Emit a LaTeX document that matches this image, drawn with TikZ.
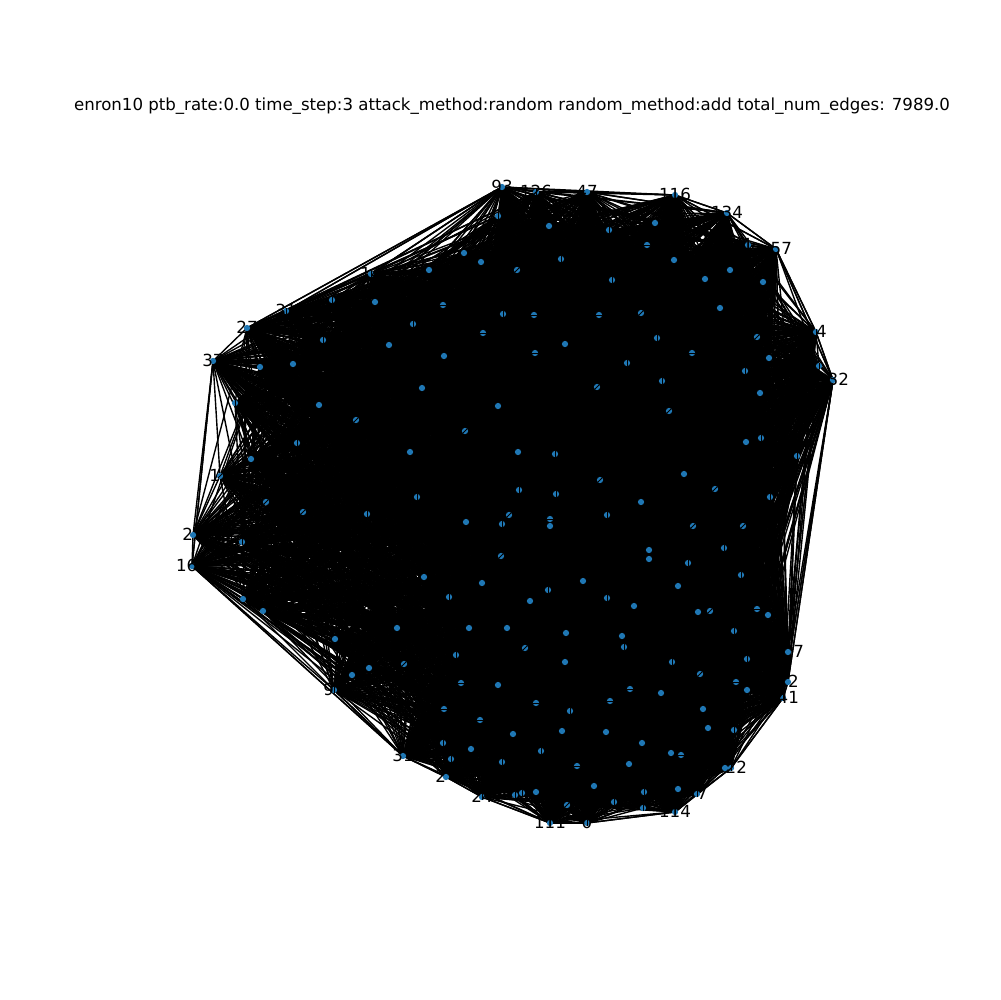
\documentclass[tikz,border=0pt]{standalone}
\usepackage{fontspec}
\setmainfont{DejaVu Sans}
\pgfdeclarelayer{edges}
\pgfsetlayers{edges,main}
\definecolor{mplblue}{HTML}{1F77B4}
\tikzset{
  dota/.style={circle,fill=mplblue,draw=none,minimum size=4.5bp,inner sep=0pt},
  dotv/.style={dota,path picture={\draw[black,line width=0.7bp] (path picture bounding box.south)--(path picture bounding box.north);}},
  dotd/.style={dota,path picture={\draw[black,line width=0.7bp] (path picture bounding box.south west)--(path picture bounding box.north east);}},
  doth/.style={dota,path picture={\draw[black,line width=0.7bp] (path picture bounding box.west)--(path picture bounding box.east);}},
  lab/.style={font=\fontsize{12bp}{14bp}\selectfont,text=black,inner sep=0pt,yshift=0.01in},
  ttl/.style={font=\fontsize{11.95bp}{14bp}\selectfont,text=black,inner sep=0pt},
  edge/.style={draw=black,line width=1bp}
}
\newcount\nodecnt
\newcommand{\gn}[4]{\global\advance\nodecnt by 1
  \node[dot#3] (n\the\nodecnt) at (#1,#2) {};
  \if\relax\detokenize{#4}\relax\else\node[lab] (l\the\nodecnt) at (n\the\nodecnt) {#4};\fi}
\begin{document}
\begin{tikzpicture}[x=0.01in,y=-0.01in]
\useasboundingbox (0,0) rectangle (1000,1000);
\node[ttl] (title) at (512,106) {enron10 ptb\_rate:0.0 time\_step:3 attack\_method:random random\_method:add total\_num\_edges: 7989.0};
% sparser nodes (lower left)
\gn{297}{443}{v}{}\gn{410}{452}{a}{}\gn{251}{459}{a}{}\gn{220}{476}{d}{1\phantom{0}}\gn{417}{497}{v}{}
\gn{266}{502}{d}{}\gn{303}{512}{d}{}\gn{367}{514}{v}{}\gn{466}{522}{a}{}\gn{242}{542}{v}{}
\gn{193}{535}{a}{2\phantom{0}}\gn{192}{566}{a}{16\phantom{0}}\gn{424}{577}{a}{}\gn{449}{597}{v}{}\gn{243}{599}{a}{}
\gn{263}{611}{a}{}\gn{397}{628}{a}{}\gn{335}{639}{a}{}\gn{404}{664}{d}{}\gn{369}{668}{a}{}
\gn{352}{675}{a}{}\gn{334}{690}{v}{9\phantom{0}}\gn{456}{655}{v}{}\gn{319}{405}{a}{}\gn{356}{420}{d}{}
\gn{465}{431}{d}{}\gn{235}{403}{v}{}\gn{213}{361}{a}{37}
\edef\NL{\the\nodecnt}
% other nodes
\gn{502}{187}{a}{93}\gn{498}{216}{v}{}\gn{464}{253}{a}{}\gn{481}{262}{a}{}\gn{429}{270}{a}{}
\gn{371}{274}{v}{14}\gn{332}{300}{v}{}\gn{375}{302}{a}{}\gn{443}{305}{h}{}\gn{503}{314}{v}{}
\gn{286}{311}{v}{31}\gn{247}{328}{a}{27}\gn{413}{324}{v}{}\gn{483}{333}{h}{}\gn{323}{340}{v}{}
\gn{389}{345}{a}{}\gn{444}{356}{a}{}\gn{293}{364}{a}{}\gn{260}{367}{a}{}\gn{422}{388}{a}{}
\gn{498}{406}{a}{}\gn{536}{192}{v}{126}\gn{587}{192}{a}{47}\gn{675}{195}{a}{116}\gn{727}{213}{a}{134}
\gn{748}{245}{v}{\phantom{0}1\phantom{0}}\gn{776}{249}{a}{\phantom{0}57}\gn{549}{226}{a}{}\gn{609}{230}{v}{}\gn{655}{223}{a}{}
\gn{647}{245}{h}{}\gn{674}{260}{a}{}\gn{730}{270}{a}{}\gn{763}{282}{a}{}\gn{561}{259}{v}{}
\gn{517}{270}{d}{}\gn{612}{280}{v}{}\gn{705}{279}{a}{}\gn{720}{308}{a}{}\gn{534}{315}{h}{}
\gn{599}{315}{h}{}\gn{641}{313}{d}{}\gn{757}{337}{d}{}\gn{816}{332}{v}{\phantom{0}4}\gn{819}{366}{v}{}
\gn{833}{380}{a}{\phantom{0}32}\gn{769}{358}{a}{}\gn{565}{344}{a}{}\gn{535}{353}{h}{}\gn{657}{338}{v}{}
\gn{692}{353}{h}{}\gn{745}{371}{v}{}\gn{760}{393}{a}{}\gn{627}{363}{v}{}\gn{662}{381}{v}{}
\gn{597}{387}{d}{}\gn{669}{411}{d}{}\gn{746}{442}{a}{}\gn{761}{438}{v}{}\gn{797}{456}{v}{}
\gn{518}{452}{a}{}\gn{555}{454}{v}{}\gn{684}{474}{a}{}\gn{600}{480}{d}{}\gn{715}{489}{d}{}
\gn{519}{490}{v}{}\gn{556}{494}{v}{}\gn{641}{502}{a}{}\gn{770}{497}{v}{}\gn{509}{515}{d}{}
\gn{550}{519}{h}{}\gn{550}{526}{a}{}\gn{607}{515}{v}{}\gn{502}{524}{v}{}\gn{693}{526}{d}{}
\gn{743}{526}{d}{}\gn{649}{550}{a}{}\gn{649}{559}{a}{}\gn{724}{548}{v}{}\gn{501}{556}{d}{}
\gn{688}{563}{v}{}\gn{741}{575}{v}{}\gn{583}{581}{a}{}\gn{548}{590}{v}{}\gn{678}{586}{a}{}
\gn{482}{583}{a}{}\gn{530}{601}{a}{}\gn{607}{598}{v}{}\gn{634}{606}{a}{}\gn{698}{612}{a}{}
\gn{710}{611}{d}{}\gn{757}{609}{h}{}\gn{768}{615}{a}{}\gn{507}{628}{a}{}\gn{469}{628}{a}{}
\gn{566}{633}{a}{}\gn{622}{636}{a}{}\gn{624}{647}{v}{}\gn{525}{648}{d}{}\gn{734}{631}{v}{}
\gn{788}{652}{a}{\phantom{00}7}\gn{565}{662}{a}{}\gn{672}{662}{v}{}\gn{747}{659}{v}{}\gn{700}{674}{d}{}
\gn{788}{682}{a}{\phantom{0}2}\gn{736}{682}{h}{}\gn{747}{690}{a}{}\gn{783}{698}{v}{\phantom{0}41}\gn{630}{689}{h}{}
\gn{661}{693}{a}{}\gn{610}{701}{h}{}\gn{536}{703}{h}{}\gn{570}{711}{v}{}\gn{703}{709}{a}{}
\gn{708}{728}{a}{}\gn{734}{730}{v}{}\gn{513}{734}{a}{}\gn{562}{731}{a}{}\gn{606}{732}{a}{}
\gn{642}{743}{a}{}\gn{541}{751}{v}{}\gn{671}{753}{a}{}\gn{681}{755}{h}{}\gn{502}{762}{v}{}
\gn{577}{766}{h}{}\gn{629}{764}{a}{}\gn{725}{768}{a}{}\gn{731}{768}{v}{\phantom{0}22}\gn{594}{786}{a}{}
\gn{678}{789}{a}{}\gn{536}{792}{a}{}\gn{644}{792}{v}{}\gn{697}{794}{v}{\phantom{0}7}\gn{522}{793}{v}{}
\gn{515}{795}{v}{}\gn{567}{805}{d}{}\gn{614}{802}{v}{}\gn{643}{808}{v}{}\gn{675}{812}{v}{114}
\gn{550}{823}{v}{111}\gn{587}{823}{v}{0}\gn{461}{683}{h}{}\gn{498}{685}{a}{}\gn{444}{709}{h}{}
\gn{480}{720}{h}{}\gn{443}{743}{v}{}\gn{471}{749}{a}{}\gn{451}{759}{v}{}\gn{403}{756}{a}{31}
\gn{446}{777}{a}{2\phantom{0}}\gn{482}{797}{v}{24}
\edef\NN{\the\nodecnt}
\edef\NM{\the\numexpr\NN-1\relax}
% lower-left nodes close to the hull keep more of their edges
\foreach \q in {3,4,6,10,11,12,15,16,22,27,28}{\expandafter\gdef\csname outer\q\endcsname{}}
\newcommand{\edgeif}[1]{\ifnum\hh<#1 \draw[edge] (n\i.center)--(n\j.center);\fi}
\begin{pgfonlayer}{edges}
\foreach \i in {1,...,\NM}{
  \edef\st{\the\numexpr\i+1\relax}
  \foreach \j in {\st,...,\NN}{
    \edef\hh{\the\numexpr 7*\i*\i+13*\j*\j+11*\i*\j+3*\i+5*\j\relax}
    \edef\hh{\the\numexpr \hh-97*((\hh-48)/97)\relax}
    \ifnum\i>\NL
      \ifnum\i<49
        \ifnum\j>147 \edgeif{30}\else \edgeif{82}\fi
      \else
        \edgeif{82}
      \fi
    \else
      \ifcsname outer\i\endcsname
        \ifnum\j>\NL \edgeif{50}\else \edgeif{45}\fi
      \else
        \ifnum\j>\NL \edgeif{18}\else
          \ifcsname outer\j\endcsname \edgeif{35}\else \edgeif{12}\fi
        \fi
      \fi
    \fi
  }
}
% hull edges
\foreach \a/\b in {29/50,50/51,51/52,52/53,53/55,55/72,72/74,74/129,129/134,134/137,137/157,157/162,162/168,168/170,170/169,169/180,180/179,179/178,178/22,22/12,12/11,11/28,28/40,40/39,39/34,34/29,28/12,28/4,29/40,29/39,55/74,74/137,74/134,12/178,22/178,51/29,52/50,53/51,55/52}
  \draw[edge] (n\a.center)--(n\b.center);
\end{pgfonlayer}
\end{tikzpicture}
\end{document}
